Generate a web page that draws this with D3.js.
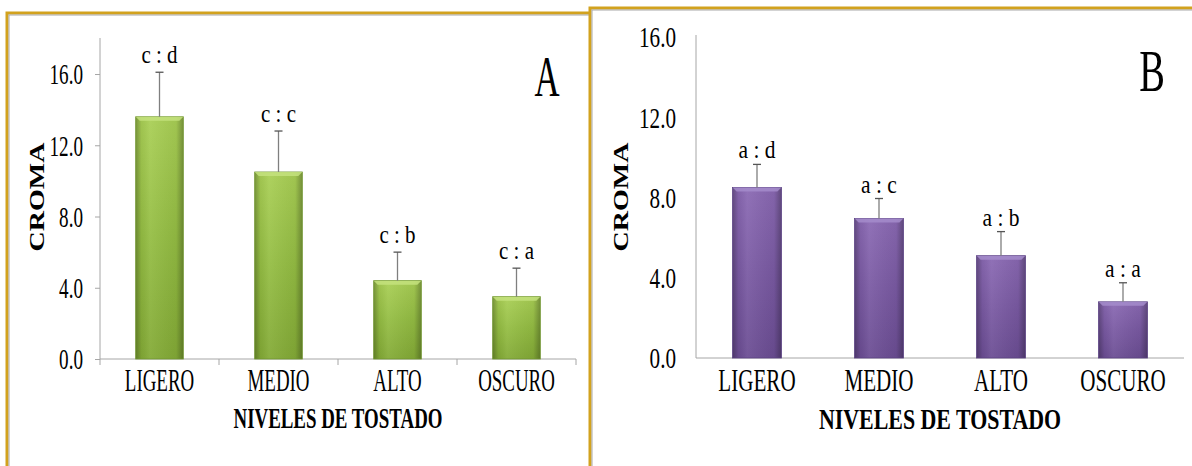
<!DOCTYPE html>
<html><head><meta charset="utf-8">
<script src="https://cdn.jsdelivr.net/npm/d3@7"></script>
<style>html,body{margin:0;padding:0;background:#fff;}svg{display:block;}</style>
</head><body>
<svg id="chart" width="1192" height="466"></svg>
<script>
// ---------- DATA ----------
const categories = ["LIGERO", "MEDIO", "ALTO", "OSCURO"];
const valuesA = [13.6, 10.5, 4.4, 3.5];
const errorsA = [2.5, 2.3, 1.6, 1.6];
const lettersA = ["c : d", "c : c", "c : b", "c : a"];
const valuesB = [8.5, 6.95, 5.1, 2.8];
const errorsB = [1.15, 1.0, 1.2, 0.95];
const lettersB = ["a : d", "a : c", "a : b", "a : a"];
const yTicks = [0, 4, 8, 12, 16];
const yTickLabels = ["0.0", "4.0", "8.0", "12.0", "16.0"];
const yTitle = "CROMA";
const xTitle = "NIVELES DE TOSTADO";
const panelLabels = ["A", "B"];

// ---------- SETUP ----------
const svg = d3.select("#chart");
const FONT = "'Liberation Serif','Times New Roman',serif";
const defs = svg.append("defs");

function grad(id, stops, vertical) {
  const g = defs.append("linearGradient").attr("id", id)
    .attr("x1", 0).attr("y1", 0).attr("x2", vertical ? 0 : 1).attr("y2", vertical ? 1 : 0);
  stops.forEach(s => g.append("stop").attr("offset", s[0]).attr("stop-color", s[1]).attr("stop-opacity", s[2] == null ? 1 : s[2]));
}
grad("gA", [[0, "#a9cf55"], [0.5, "#94bd43"], [1, "#83aa36"]], true);
grad("gB", [[0, "#8a69b3"], [0.5, "#7a5aa3"], [1, "#6b4d93"]], true);
grad("edge", [[0, "#000", 0.28], [0.12, "#000", 0.05], [0.3, "#fff", 0.06], [0.85, "#000", 0.05], [1, "#000", 0.3]], false);

function panelBox(x, y, w, h) {
  svg.append("rect").attr("x", x).attr("y", y).attr("width", w).attr("height", h)
    .attr("fill", "#fff").attr("stroke", "#d2a21e").attr("stroke-width", 3);
  svg.append("rect").attr("x", x + 2).attr("y", y + 2).attr("width", w - 4).attr("height", h - 4)
    .attr("fill", "none").attr("stroke", "#a8a8a8").attr("stroke-width", 1);
}

function scaledText(g, txt, x, y, size, sx, opts = {}) {
  return g.append("text")
    .attr("transform", `translate(${x},${y}) scale(${sx},1)`)
    .attr("text-anchor", opts.anchor || "middle")
    .attr("font-family", FONT).attr("font-size", size)
    .attr("font-weight", opts.bold ? "bold" : "normal")
    .attr("fill", "#000").text(txt);
}

function drawPanel(cfg) {
  const g = svg.append("g");
  const x = d3.scaleBand().domain(categories).range([cfg.x0, cfg.x1]).paddingInner(0).paddingOuter(0);
  const y = d3.scaleLinear().domain([0, cfg.ymax]).range([cfg.yb, cfg.yt]);

  // y axis
  const ya = d3.axisLeft(y).tickValues(yTicks).tickFormat((d, i) => yTickLabels[i]).tickSize(cfg.yTickSize).tickSizeOuter(0);
  const yg = g.append("g").attr("transform", `translate(${cfg.x0},0)`).call(ya);
  yg.select(".domain").attr("stroke", "#a6a6a6").attr("d", `M0,${y(0)}V${cfg.yAxisTop}`);
  yg.selectAll(".tick line").attr("stroke", "#a6a6a6");
  yg.selectAll(".tick text")
    .attr("font-family", FONT).attr("font-size", cfg.tickFont).attr("fill", "#000")
    .attr("transform", `scale(${cfg.tickSx},1)`)
    .attr("x", -cfg.tickGap / cfg.tickSx).attr("dy", "0.34em");

  // x axis
  const xa = d3.axisBottom(x).tickSize(0).tickSizeOuter(0);
  const xg = g.append("g").attr("transform", `translate(0,${cfg.yb})`).call(xa);
  xg.select(".domain").attr("stroke", "#a6a6a6").attr("d", `M${cfg.x0},0H${cfg.x1}`);
  xg.selectAll(".tick text").attr("font-family", FONT).attr("font-size", cfg.catFont).attr("fill", "#000")
    .attr("y", 0).attr("dy", 0)
    .attr("transform", `translate(0,${cfg.catBase - cfg.yb}) scale(${cfg.catSx},1)`);
  if (cfg.xTicks) {
    const bounds = categories.map(c => x(c)).concat([cfg.x1]);
    g.selectAll(".xb").data(bounds).enter().append("line")
      .attr("x1", d => d).attr("x2", d => d).attr("y1", cfg.yb).attr("y2", cfg.yb + 6)
      .attr("stroke", "#a6a6a6");
  }

  // bars
  const bw = x.bandwidth() * cfg.barFrac;
  const bars = g.selectAll(".bar").data(categories.map((c, i) => ({ c, v: cfg.values[i], e: cfg.errors[i], l: cfg.letters[i] })))
    .enter().append("g");
  bars.append("rect").attr("x", d => x(d.c) + (x.bandwidth() - bw) / 2).attr("width", bw)
    .attr("y", d => y(d.v)).attr("height", d => y(0) - y(d.v)).attr("fill", `url(#${cfg.grad})`);
  bars.append("rect").attr("x", d => x(d.c) + (x.bandwidth() - bw) / 2).attr("width", bw)
    .attr("y", d => y(d.v)).attr("height", d => y(0) - y(d.v)).attr("fill", "url(#edge)")
    .attr("stroke", cfg.barStroke).attr("stroke-width", 0.8);
  bars.append("path").attr("d", d => {
    const l = x(d.c) + (x.bandwidth() - bw) / 2, r = l + bw, t = y(d.v);
    return `M${l},${t}H${r}L${r - 4},${t + 4}H${l + 4}Z`;
  }).attr("fill", cfg.bevel).attr("opacity", 0.85);

  // error bars
  const cx = d => x(d.c) + x.bandwidth() / 2;
  bars.append("line").attr("x1", cx).attr("x2", cx).attr("y1", d => y(d.v)).attr("y2", d => y(d.v + d.e))
    .attr("stroke", "#7f7f7f").attr("stroke-width", 1.3);
  bars.append("line").attr("x1", d => cx(d) - 4).attr("x2", d => cx(d) + 4)
    .attr("y1", d => y(d.v + d.e)).attr("y2", d => y(d.v + d.e))
    .attr("stroke", "#555").attr("stroke-width", 1.3);
  bars.each(function (d) {
    scaledText(d3.select(this), d.l, cx(d), y(d.v + d.e) - cfg.letterGap, cfg.letterFont, cfg.letterSx);
  });

  // titles
  scaledText(g, xTitle, (cfg.x0 + cfg.x1) / 2, cfg.titleBase, cfg.titleFont, cfg.titleSx, { bold: true });
  g.append("text")
    .attr("transform", `translate(${cfg.yTitleX},${cfg.yTitleY}) scale(${cfg.yTitleSx},1) rotate(-90)`)
    .attr("text-anchor", "middle").attr("dy", "0.35em")
    .attr("font-family", FONT).attr("font-size", cfg.yTitleFont).attr("font-weight", "bold")
    .text(yTitle);
  scaledText(g, cfg.panel, cfg.plx, cfg.ply, cfg.plFont, cfg.plSx);
}

// Panel A (drawn first, B overlaps its right edge)
panelBox(7, 13, 600, 470);
drawPanel({
  x0: 100, x1: 576, yb: 359, yt: 38.4, ymax: 18, yAxisTop: 38,
  values: valuesA, errors: errorsA, letters: lettersA, grad: "gA", barStroke: "#6f9430", bevel: "#c4e27e",
  barFrac: 0.4, yTickSize: 5, xTicks: true,
  tickFont: 29, tickSx: 0.66, tickGap: 17,
  catFont: 31, catSx: 0.61, catBase: 391,
  letterFont: 25, letterSx: 0.84, letterGap: 9,
  titleFont: 30, titleSx: 0.63, titleBase: 428,
  yTitleX: 37, yTitleY: 197, yTitleFont: 28, yTitleSx: 0.72,
  panel: panelLabels[0], plx: 547, ply: 96, plFont: 58, plSx: 0.6
});

// Panel B
panelBox(590, 8, 640, 480);
drawPanel({
  x0: 696, x1: 1184, yb: 358, yt: 37, ymax: 16, yAxisTop: 35,
  values: valuesB, errors: errorsB, letters: lettersB, grad: "gB", barStroke: "#5a4282", bevel: "#a58ccb",
  barFrac: 0.4, yTickSize: 0, xTicks: false,
  tickFont: 29, tickSx: 0.73, tickGap: 20,
  catFont: 31, catSx: 0.68, catBase: 391,
  letterFont: 25, letterSx: 0.86, letterGap: 6,
  titleFont: 30, titleSx: 0.73, titleBase: 429,
  yTitleX: 621, yTitleY: 197, yTitleFont: 28, yTitleSx: 0.72,
  panel: panelLabels[1], plx: 1152, ply: 91, plFont: 60, plSx: 0.64
});
</script>
</body></html>
